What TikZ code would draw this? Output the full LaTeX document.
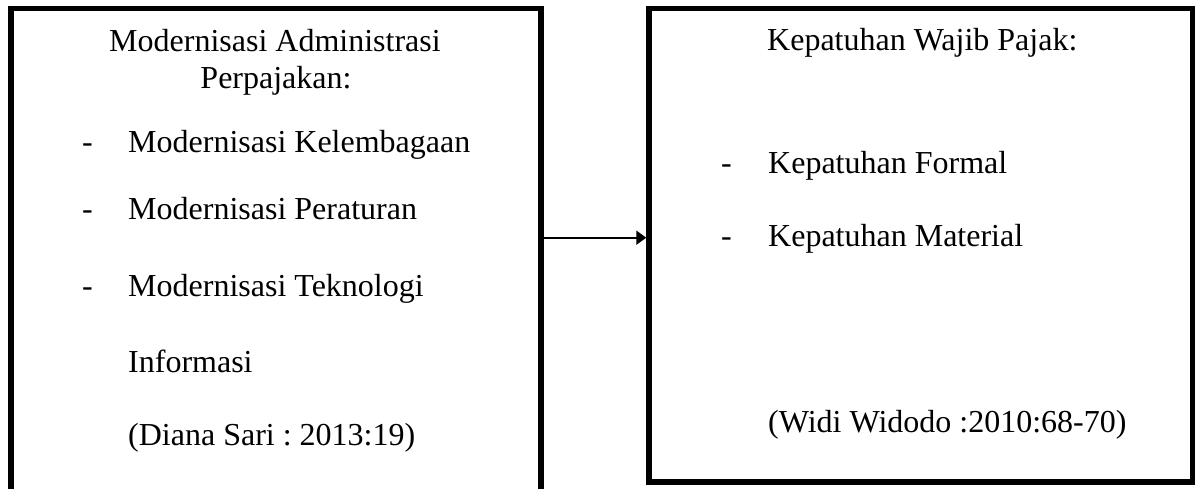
\documentclass[tikz,border=0pt]{standalone}
\usepackage{fontspec}
\setmainfont{Liberation Serif}
\usetikzlibrary{arrows.meta}
\frenchspacing
\tikzset{
  box/.style={draw=black, line width=5.5pt, rectangle, inner sep=0pt},
  txt/.style={inner sep=0pt, anchor=base west, font=\fontsize{32}{38}\selectfont},
  ctxt/.style={inner sep=0pt, anchor=base, font=\fontsize{32}{38}\selectfont},
  conn/.style={line width=2pt, -{Triangle[length=10pt,width=14pt]}}
}
\begin{document}
\begin{tikzpicture}[x=1pt,y=-1pt]
\useasboundingbox (0,0) rectangle (1200,488);
\clip (0,0) rectangle (1200,488);
% boxes
\node[box, minimum width=530pt, minimum height=492pt] (left) at (276,254.3) {};
\node[box, minimum width=543.5pt, minimum height=473.7pt] (right) at (920.75,245.15) {};
% left texts
\node[ctxt] (l1) at (275,51) {Modernisasi Administrasi};
\node[ctxt] (l2) at (276,88) {Perpajakan:};
\node[txt] (d1) at (82,152) {-};
\node[txt] (l3) at (128,152) {Modernisasi Kelembagaan};
\node[txt] (d2) at (82,219) {-};
\node[txt] (l4) at (128,219) {Modernisasi Peraturan};
\node[txt] (d3) at (82,296) {-};
\node[txt] (l5) at (128,296) {Modernisasi Teknologi};
\node[txt] (l6) at (128,372) {Informasi};
\node[txt] (l7) at (128,445) {(Diana Sari : 2013:19)};
% right texts
\node[txt] (r1) at (767,50) {Kepatuhan Wajib Pajak:};
\node[txt] (e1) at (721,173) {-};
\node[txt] (r2) at (768,173) {Kepatuhan Formal};
\node[txt] (e2) at (721,246) {-};
\node[txt] (r3) at (768,246) {Kepatuhan Material};
\node[txt] (r4) at (768,432) {(Widi Widodo :2010:68-70)};
% connector
\draw[conn] (left.east |- 0,237.7) -- (right.west |- 0,237.7);
\end{tikzpicture}
\end{document}
